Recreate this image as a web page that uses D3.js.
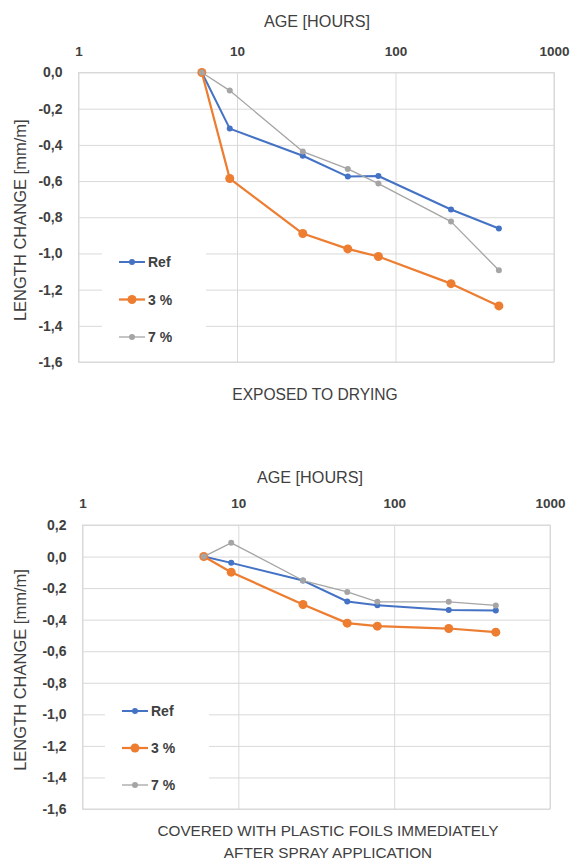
<!DOCTYPE html>
<html>
<head>
<meta charset="utf-8">
<script src="https://cdn.jsdelivr.net/npm/d3@7"></script>
<style>
  body { margin: 0; background: #fff; }
  svg text { font-family: "Liberation Sans", Arial, sans-serif; fill: #404040; }
</style>
</head>
<body>
<div id="chart"></div>
<script>
// ages in hours (shared by both panels)
const hours = [6, 9, 26, 50, 78, 224, 449];

// exposed to drying
const dryRef = [0, -0.31, -0.46, -0.575, -0.572, -0.757, -0.862];
const dry3 = [0, -0.586, -0.89, -0.975, -1.017, -1.167, -1.29];
const dry7 = [0, -0.10, -0.437, -0.533, -0.614, -0.824, -1.093];

// covered with plastic foils
const foilRef = [0, -0.04, -0.152, -0.285, -0.308, -0.338, -0.342];
const foil3 = [0, -0.099, -0.304, -0.422, -0.441, -0.456, -0.479];
const foil7 = [0, 0.087, -0.152, -0.224, -0.287, -0.287, -0.31];

const seriesNames = ["Ref", "3 %", "7 %"];
const xTicks = [1, 10, 100, 1000];
const dryYTicks = [0, -0.2, -0.4, -0.6, -0.8, -1.0, -1.2, -1.4, -1.6];
const foilYTicks = [0.2, 0, -0.2, -0.4, -0.6, -0.8, -1.0, -1.2, -1.4, -1.6];

const colors = ["#4472C4", "#ED7D31", "#A5A5A5"];
const lineW = [2, 2.25, 1.3];
const dotR = [3, 4.5, 3];

const locale = d3.formatLocale({ decimal: ",", thousands: ".", grouping: [3], currency: ["", ""], minus: "-" });
const fmt = locale.format(".1f");

const svg = d3.select("#chart").append("svg")
  .attr("width", 573)
  .attr("height", 862);

function drawPanel(p) {
  const g = svg.append("g");

  const x = d3.scaleLog().domain([1, 1000]).range([p.left, p.right]);
  const y = d3.scaleLinear().domain([-1.6, p.yMax]).range([p.bottom, p.top]);

  // horizontal grid
  g.append("g")
    .attr("transform", `translate(${p.left},0)`)
    .call(d3.axisLeft(y).tickValues(p.yTicks).tickSize(-(p.right - p.left)).tickFormat(""))
    .call(a => a.select(".domain").remove())
    .selectAll("line").attr("stroke", "#d9d9d9");

  // vertical grid
  g.append("g")
    .attr("transform", `translate(0,${p.top})`)
    .call(d3.axisTop(x).tickValues(xTicks).tickSize(-(p.bottom - p.top)).tickFormat(""))
    .call(a => a.select(".domain").remove())
    .selectAll("line").attr("stroke", "#d9d9d9");

  // plot border
  g.append("rect")
    .attr("x", p.left).attr("y", p.top)
    .attr("width", p.right - p.left).attr("height", p.bottom - p.top)
    .attr("fill", "none").attr("stroke", "#d9d9d9");

  // tick labels
  const xa = g.append("g")
    .attr("transform", `translate(0,${p.top - 14})`)
    .call(d3.axisTop(x).tickValues(xTicks).tickSize(0).tickFormat(d3.format("d")));
  xa.select(".domain").remove();
  xa.selectAll("text")
    .attr("font-size", "13.5px").attr("font-weight", "bold").attr("fill", "#404040");

  const ya = g.append("g")
    .attr("transform", `translate(${p.left - 13},0)`)
    .call(d3.axisLeft(y).tickValues(p.yTicks).tickSize(0).tickFormat(fmt));
  ya.select(".domain").remove();
  ya.selectAll("text")
    .attr("font-size", "14px").attr("font-weight", "bold").attr("fill", "#404040");

  // legend background (hides grid lines)
  g.append("rect")
    .attr("x", p.legX - 30).attr("y", p.legY - 20)
    .attr("width", 104).attr("height", 114)
    .attr("fill", "#fff");

  // series
  const line = d3.line().x((d, i) => x(hours[i])).y(d => y(d));
  p.series.forEach((vals, k) => {
    g.append("path")
      .datum(vals)
      .attr("d", line)
      .attr("fill", "none")
      .attr("stroke", colors[k])
      .attr("stroke-width", lineW[k])
      .attr("stroke-linejoin", "round");
    g.selectAll(null)
      .data(vals)
      .enter().append("circle")
      .attr("cx", (d, i) => x(hours[i]))
      .attr("cy", d => y(d))
      .attr("r", dotR[k])
      .attr("fill", colors[k]);
  });

  // legend
  seriesNames.forEach((name, k) => {
    const ly = p.legY + k * p.legStep;
    g.append("line")
      .attr("x1", p.legX - 13).attr("x2", p.legX + 13)
      .attr("y1", ly).attr("y2", ly)
      .attr("stroke", colors[k]).attr("stroke-width", lineW[k]);
    g.append("circle")
      .attr("cx", p.legX).attr("cy", ly).attr("r", dotR[k])
      .attr("fill", colors[k]);
    g.append("text")
      .attr("x", p.legX + 16).attr("y", ly + 5)
      .attr("font-size", "14px").attr("font-weight", "bold")
      .text(name);
  });

  // titles
  g.append("text")
    .attr("x", p.ageX).attr("y", p.ageY)
    .attr("text-anchor", "middle").attr("font-size", "16.2px")
    .text("AGE [HOURS]");

  g.append("text")
    .attr("transform", `translate(26,${(p.top + p.bottom) / 2 + 3}) rotate(-90)`)
    .attr("text-anchor", "middle").attr("font-size", "16.5px")
    .text("LENGTH CHANGE [mm/m]");

  p.caption.forEach((c, i) => {
    g.append("text")
      .attr("x", p.capX).attr("y", p.capY + i * 22)
      .attr("text-anchor", "middle").attr("font-size", p.capSize)
      .text(c);
  });
}

drawPanel({
  left: 78.5, right: 554, top: 72.5, bottom: 362,
  yMax: 0, yTicks: dryYTicks,
  series: [dryRef, dry3, dry7],
  legX: 132, legY: 262, legStep: 37.5,
  ageX: 317, ageY: 27, capX: 315, capY: 400, capSize: "15.6px",
  caption: ["EXPOSED TO DRYING"]
});

drawPanel({
  left: 82.5, right: 550, top: 525, bottom: 809,
  yMax: 0.2, yTicks: foilYTicks,
  series: [foilRef, foil3, foil7],
  legX: 135, legY: 711, legStep: 37,
  ageX: 310, ageY: 483, capX: 328, capY: 836, capSize: "15.3px",
  caption: ["COVERED WITH PLASTIC FOILS IMMEDIATELY", "AFTER SPRAY APPLICATION"]
});
</script>
</body>
</html>
